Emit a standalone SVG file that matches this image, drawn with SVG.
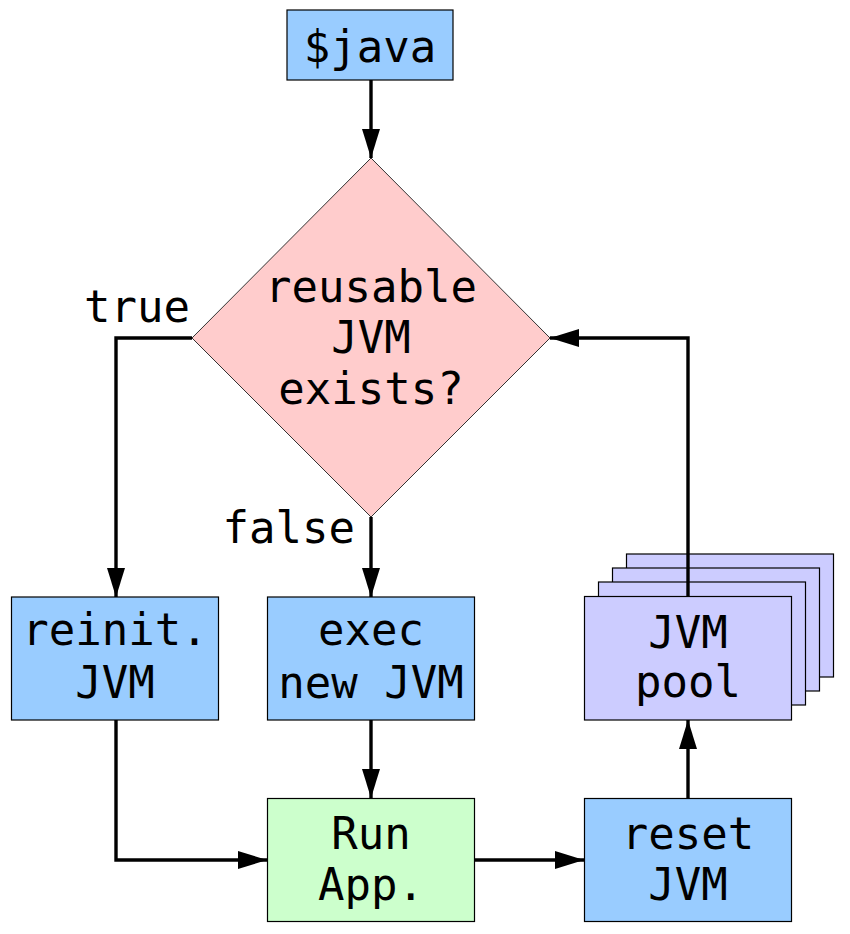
<svg xmlns="http://www.w3.org/2000/svg" width="850" height="934" viewBox="0 0 850 934">
<style>
text{font-family:"DejaVu Sans Mono","Liberation Mono",monospace;font-size:44px;fill:#000;text-anchor:middle}
.box{stroke:#000;stroke-width:1.2}
.blue{fill:#99ccff}
.pool{fill:#ccccff}
.green{fill:#ccffcc}
.dia{fill:#ffcccc;stroke:#333;stroke-width:1}
.conn{fill:none;stroke:#000;stroke-width:3.4;stroke-linejoin:miter}
.lbl{text-anchor:end}
</style>
<defs>
<marker id="arr" markerUnits="userSpaceOnUse" markerWidth="30" markerHeight="20" refX="29" refY="9" orient="auto">
<path d="M0,0 L29,9 L0,18 z" fill="#000"/>
</marker>
</defs>
<rect width="850" height="934" fill="#fff"/>
<g id="java"><rect class="box blue" x="287" y="10" width="166" height="70"/><text x="370" y="62">$java</text></g>
<g id="decision"><polygon class="dia" points="371,158 550,338 371,517 192,338"/><text x="371" y="302">reusable</text><text x="371" y="353">JVM</text><text x="371" y="404">exists?</text></g>
<g id="reinit"><rect class="box blue" x="11.5" y="597" width="207" height="123"/><text x="115" y="645">reinit.</text><text x="115" y="698">JVM</text></g>
<g id="exec"><rect class="box blue" x="267.5" y="597" width="207" height="123"/><text x="371" y="645">exec</text><text x="371" y="698">new JVM</text></g>
<g id="pool">
<rect class="box pool" x="626.5" y="554" width="207" height="123"/>
<rect class="box pool" x="612.5" y="568" width="207" height="123"/>
<rect class="box pool" x="598.5" y="582" width="207" height="123"/>
<rect class="box pool" x="584.5" y="596.5" width="207" height="123.5"/>
<text x="688" y="648">JVM</text><text x="688" y="697">pool</text></g>
<g id="run"><rect class="box green" x="267.5" y="798.5" width="207" height="123"/><text x="371" y="849">Run</text><text x="371" y="900">App.</text></g>
<g id="reset"><rect class="box blue" x="584.5" y="798.5" width="207" height="123"/><text x="688" y="849">reset</text><text x="688" y="900">JVM</text></g>
<g id="connectors">
<path class="conn" d="M371,80 L371,158" marker-end="url(#arr)"/>
<path class="conn" d="M192,338 L116,338 L116,597" marker-end="url(#arr)"/>
<path class="conn" d="M371,517 L371,597" marker-end="url(#arr)"/>
<path class="conn" d="M116,720 L116,860 L267,860" marker-end="url(#arr)"/>
<path class="conn" d="M371,720 L371,798" marker-end="url(#arr)"/>
<path class="conn" d="M474,860 L584,860" marker-end="url(#arr)"/>
<path class="conn" d="M688,798 L688,720" marker-end="url(#arr)"/>
<path class="conn" d="M688,596 L688,338 L550,338" marker-end="url(#arr)"/>
<text class="lbl" x="190" y="322">true</text>
<text class="lbl" x="355" y="543">false</text>
</g>
</svg>
